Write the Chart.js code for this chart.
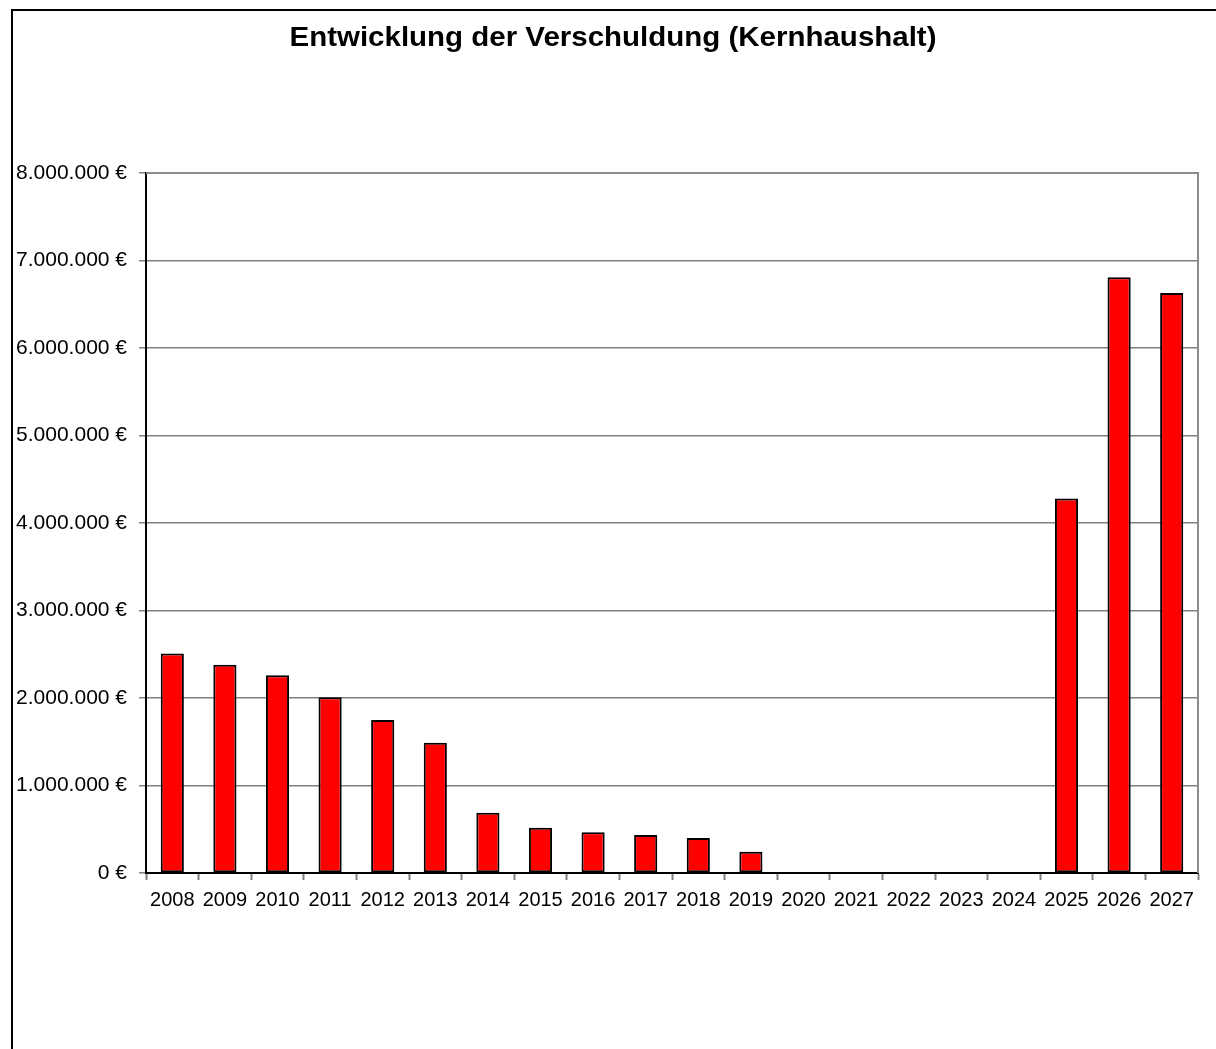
<!DOCTYPE html>
<html>
<head>
<meta charset="utf-8">
<title>Entwicklung der Verschuldung</title>
<script src="https://cdn.jsdelivr.net/npm/chart.js@4.4.1/dist/chart.umd.min.js"></script>
<style>
  html, body { margin: 0; padding: 0; background: #fff; overflow: hidden; }
  #chartContainer { position: relative; width: 1216px; height: 1049px; }
</style>
</head>
<body>
<div id="chartContainer"><canvas id="myChart" width="1216" height="1049"></canvas></div>
<script>
// Years on the x axis
var years = ['2008', '2009', '2010', '2011', '2012', '2013', '2014', '2015', '2016', '2017',
             '2018', '2019', '2020', '2021', '2022', '2023', '2024', '2025', '2026', '2027'];

// Debt of the core budget in euro
var debt = [2510000, 2380000, 2260000, 2010000, 1750000, 1490000, 690000, 518000, 465000, 434000,
            400000, 244000, 0, 0, 0, 0, 0, 4280000, 6810000, 6630000];

// Y axis ticks
var yMax = 8000000;
var yStep = 1000000;

var chartTitle = 'Entwicklung der Verschuldung (Kernhaushalt)';

// German number format: 8.000.000 €
function euro(value) {
  return String(Math.round(value)).replace(/\B(?=(\d{3})+(?!\d))/g, '.') + ' €';
}

// Draws the outer box of the chart object, the wide title and the grey edge of the plot area
var framePlugin = {
  id: 'frame',
  beforeDraw: function(chart) {
    var ctx = chart.ctx;
    ctx.save();
    ctx.fillStyle = '#ffffff';
    ctx.fillRect(0, 0, chart.width, chart.height);
    ctx.strokeStyle = '#000000';
    ctx.lineWidth = 2;
    ctx.beginPath();
    ctx.moveTo(12, chart.height + 5);
    ctx.lineTo(12, 10);
    ctx.lineTo(chart.width + 5, 10);
    ctx.stroke();

    // title, slightly stretched sideways like the original
    ctx.font = 'bold 27px "Liberation Sans", Arial, sans-serif';
    ctx.fillStyle = '#000000';
    ctx.textAlign = 'center';
    ctx.textBaseline = 'alphabetic';
    var w = ctx.measureText(chartTitle).width;
    var sx = 647 / w;
    ctx.translate(613, 46);
    ctx.scale(sx, 1);
    ctx.fillText(chartTitle, 0, 0);
    ctx.restore();
  },
  afterDatasetsDraw: function(chart) {
    var a = chart.chartArea;
    var ctx = chart.ctx;
    ctx.save();
    ctx.strokeStyle = '#8c8c8c';
    ctx.lineWidth = 2;
    ctx.beginPath();
    ctx.moveTo(a.left, a.top);
    ctx.lineTo(a.right, a.top);
    ctx.lineTo(a.right, a.bottom);
    ctx.stroke();
    ctx.restore();
  }
};

function loadChart() {
  var ctx = document.getElementById('myChart');
  myChart = new Chart(ctx, {
    type: 'bar',
    data: {
      labels: years,
      datasets: [
        {
          label: 'Verschuldung',
          data: debt,
          backgroundColor: '#ff0000',
          borderColor: '#000000',
          borderWidth: 2,
          borderSkipped: false,
          categoryPercentage: 1,
          barPercentage: 0.44
        }
      ]
    },
    options: {
      responsive: false,
      animation: false,
      layout: { padding: { left: 11, right: 18, top: 173, bottom: 0 } },
      plugins: {
        legend: { display: false },
        tooltip: { enabled: false },
        title: { display: false }
      },
      scales: {
        x: {
          grid: {
            offset: true,
            drawOnChartArea: false,
            drawTicks: true,
            tickLength: 7,
            tickColor: '#808080',
            tickWidth: 2
          },
          border: { display: true, color: '#000000', width: 2 },
          ticks: {
            color: '#000000',
            font: { family: 'Liberation Sans, Arial, sans-serif', size: 20 },
            padding: 8,
            maxRotation: 0,
            autoSkip: false
          },
          afterFit: function(scale) { scale.height = 176; }
        },
        y: {
          min: 0,
          max: yMax,
          grid: {
            color: '#808080',
            lineWidth: 1.5,
            drawTicks: true,
            tickLength: 7,
            tickColor: '#808080'
          },
          border: { display: true, color: '#000000', width: 2 },
          ticks: {
            stepSize: yStep,
            color: '#000000',
            font: { family: 'Liberation Sans, Arial, sans-serif', size: 21 },
            padding: 12,
            callback: function(value) { return euro(value); }
          },
          afterFit: function(scale) { scale.width = 135; }
        }
      }
    },
    plugins: [framePlugin]
  });
}

loadChart();
</script>
</body>
</html>
